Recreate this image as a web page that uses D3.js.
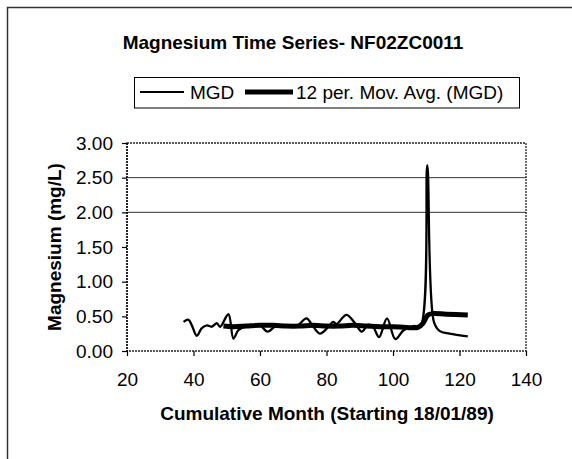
<!DOCTYPE html>
<html>
<head>
<meta charset="utf-8">
<script src="https://cdn.jsdelivr.net/npm/d3@7"></script>
<style>
  html, body { margin: 0; padding: 0; background: #fff; }
  svg { display: block; }
  text { font-family: "Liberation Sans", Arial, sans-serif; fill: #000; }
</style>
</head>
<body>
<svg id="chart" width="572" height="459"></svg>
<script>
// ---- data ----
const title = "Magnesium Time Series- NF02ZC0011";
const xTitle = "Cumulative Month (Starting 18/01/89)";
const yTitle = "Magnesium (mg/L)";
const seriesNames = ["MGD", "12 per. Mov. Avg. (MGD)"];

const xTicks = [20, 40, 60, 80, 100, 120, 140];
const yTicks = [0, 0.5, 1.0, 1.5, 2.0, 2.5, 3.0];
const gridValues = [2.0, 2.5];

const mgdMonths = [37, 38.5, 39.5, 41, 42.5, 44, 45.5, 47, 48, 50.5, 52, 53.5, 56, 58, 60, 62.3, 65, 68, 71, 74, 75.6, 78, 80.6, 82, 83, 86, 88.6, 90.6, 92.6, 94, 95.8, 98.2, 100.7, 103.2, 106.2, 108.2, 110.3, 112.3, 114, 117, 122.5];
const mgdValues = [0.42, 0.45, 0.37, 0.22, 0.33, 0.37, 0.35, 0.40, 0.35, 0.53, 0.18, 0.30, 0.36, 0.36, 0.37, 0.28, 0.37, 0.36, 0.36, 0.47, 0.38, 0.25, 0.35, 0.42, 0.39, 0.52, 0.40, 0.28, 0.38, 0.35, 0.20, 0.47, 0.17, 0.30, 0.36, 0.35, 2.68, 0.42, 0.29, 0.25, 0.21];

const maMonths = [49, 52, 56, 60, 64, 68, 72, 76, 80, 84, 88, 92, 96, 100, 104, 107.5, 109, 110.5, 112, 116, 122.5];
const maValues = [0.36, 0.35, 0.36, 0.37, 0.37, 0.36, 0.36, 0.37, 0.36, 0.36, 0.37, 0.36, 0.35, 0.35, 0.34, 0.34, 0.40, 0.52, 0.54, 0.53, 0.52];

// ---- layout ----
const svg = d3.select("#chart");
const plot = { left: 127, right: 526, top: 143, bottom: 351 };
const FS = 19;

const x = d3.scaleLinear().domain([20, 140]).range([plot.left, plot.right]);
const y = d3.scaleLinear().domain([0, 3]).range([plot.bottom, plot.top]);

// outer chart frame
svg.append("rect")
  .attr("x", 7.5).attr("y", 7.5).attr("width", 600).attr("height", 500)
  .attr("fill", "none").attr("stroke", "#333").attr("stroke-width", 1.5);

// title
svg.append("text")
  .attr("x", 293).attr("y", 49)
  .attr("text-anchor", "middle")
  .attr("font-weight", "bold").attr("font-size", FS)
  .text(title);

// legend
const lg = svg.append("g");
lg.append("rect").attr("x", 134.5).attr("y", 77.5).attr("width", 385).attr("height", 30.5)
  .attr("fill", "#fff").attr("stroke", "#000").attr("stroke-width", 1);
lg.append("line").attr("x1", 140).attr("x2", 184).attr("y1", 92).attr("y2", 92)
  .attr("stroke", "#000").attr("stroke-width", 2);
lg.append("text").attr("x", 190).attr("y", 99).attr("font-size", FS).text(seriesNames[0]);
lg.append("line").attr("x1", 245).attr("x2", 293).attr("y1", 92).attr("y2", 92)
  .attr("stroke", "#000").attr("stroke-width", 5);
lg.append("text").attr("x", 296).attr("y", 99).attr("font-size", FS).text(seriesNames[1]);

// gridlines
svg.append("g").selectAll("line").data(gridValues).join("line")
  .attr("x1", plot.left).attr("x2", plot.right)
  .attr("y1", d => y(d)).attr("y2", d => y(d))
  .attr("stroke", "#333").attr("stroke-width", 1);

// plot area border (dotted)
svg.append("rect")
  .attr("x", plot.left).attr("y", plot.top)
  .attr("width", plot.right - plot.left).attr("height", plot.bottom - plot.top)
  .attr("fill", "none").attr("stroke", "#222").attr("stroke-width", 1.3)
  .attr("stroke-dasharray", "2,1");

// axes
const xAxis = svg.append("g")
  .attr("transform", `translate(0,${plot.bottom})`)
  .call(d3.axisBottom(x).tickValues(xTicks).tickSize(5).tickPadding(17).tickFormat(d3.format("d")));
const yAxis = svg.append("g")
  .attr("transform", `translate(${plot.left},0)`)
  .call(d3.axisLeft(y).tickValues(yTicks).tickSize(5).tickPadding(9).tickFormat(d3.format(".2f")));
[xAxis, yAxis].forEach(a => {
  a.select(".domain").remove();
  a.selectAll(".tick line").attr("stroke", "#000").attr("stroke-width", 1.2);
  a.selectAll("text").attr("font-size", FS).attr("font-family", "Liberation Sans, Arial, sans-serif").attr("fill", "#000");
});
svg.append("line").attr("x1", plot.left).attr("x2", plot.left).attr("y1", plot.top).attr("y2", plot.bottom)
  .attr("stroke", "#000").attr("stroke-width", 1.3).attr("stroke-dasharray", "2,1");

// axis titles
svg.append("text")
  .attr("x", 327).attr("y", 420)
  .attr("text-anchor", "middle").attr("font-weight", "bold").attr("font-size", FS)
  .text(xTitle);
svg.append("text")
  .attr("transform", "translate(61,247) rotate(-90)")
  .attr("text-anchor", "middle").attr("font-weight", "bold").attr("font-size", FS)
  .text(yTitle);

// series
const line = d3.line().x(d => x(d[0])).y(d => y(d[1])).curve(d3.curveCatmullRom.alpha(0.5));
const mgd = mgdMonths.map((m, i) => [m, mgdValues[i]]);
const ma = maMonths.map((m, i) => [m, maValues[i]]);

svg.append("path").datum(ma).attr("d", line)
  .attr("fill", "none").attr("stroke", "#000").attr("stroke-width", 5)
  .attr("stroke-linejoin", "round").attr("stroke-linecap", "butt");
svg.append("path").datum(mgd).attr("d", line)
  .attr("fill", "none").attr("stroke", "#000").attr("stroke-width", 2.3)
  .attr("stroke-linejoin", "round");
</script>
</body>
</html>
